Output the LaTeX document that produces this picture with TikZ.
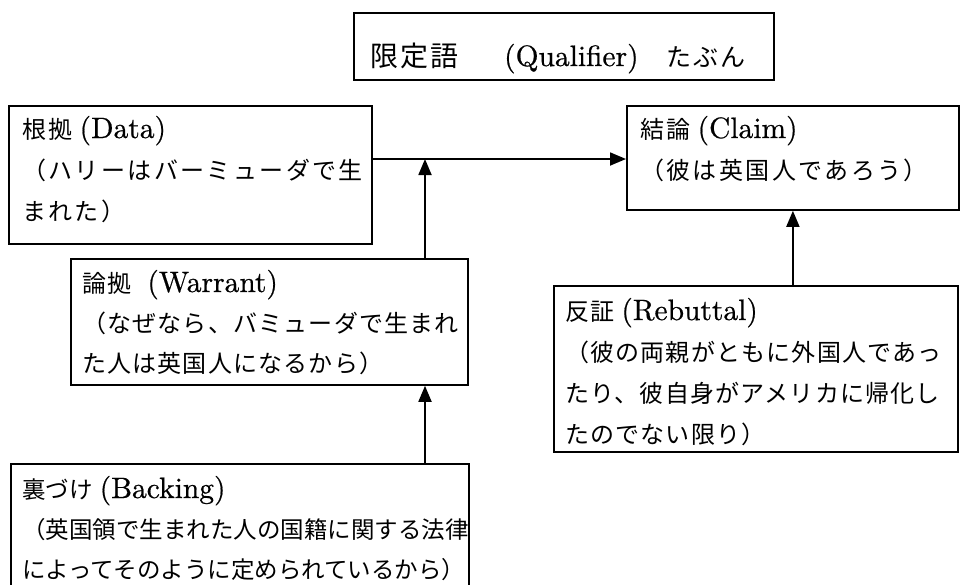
\documentclass[tikz,border=0pt]{standalone}
\usepackage{fontspec}
\usetikzlibrary{arrows.meta}
\newfontfamily\jpQ[LetterSpace=7]{Noto Sans CJK JP}
\newfontfamily\jpD[LetterSpace=10]{Noto Sans CJK JP}
\newfontfamily\jpW[LetterSpace=5]{Noto Sans CJK JP}
\newfontfamily\jpB{Noto Sans CJK JP}
\newfontfamily\lmr[FakeBold=0.6]{lmroman10-regular.otf}
\newcommand\lat[1]{{\lmr\fontsize{29.5}{41}\selectfont #1}}
\newcommand\lines[1]{\parbox[t]{540pt}{\raggedright #1}}
\begin{document}
\begin{tikzpicture}[x=1pt,y=-1pt,
  box/.style={draw, line width=1.8pt, anchor=north west, inner sep=0pt},
  txt/.style={anchor=base west, inner sep=0pt},
  arr/.style={line width=1.8pt, -{Triangle[length=16pt,width=13pt]}}]
\clip (0,0) rectangle (964,584);
% boxes
\node[box, minimum width=420pt, minimum height=67pt] (qual) at (353,12) {};
\node[box, minimum width=363pt, minimum height=138pt] (data) at (8,105) {};
\node[box, minimum width=332pt, minimum height=104pt] (claim) at (626,105) {};
\node[box, minimum width=397pt, minimum height=126pt] (warrant) at (70,258) {};
\node[box, minimum width=404pt, minimum height=166pt] (rebuttal) at (553,285) {};
\node[box, minimum width=458pt, minimum height=140pt] (backing) at (10,463) {};
% texts
\node[txt, font=\fontsize{28}{41}\selectfont\jpQ] (qualtxt) at (370,66)
  {限定語\hspace{46pt}\lat{(Qualifier)}\hspace{28pt}{\fontsize{25}{41}\selectfont たぶん}};
\node[txt, font=\fontsize{24}{41}\selectfont\jpD] (datatxt) at (22,138)
  {\lines{根拠\hspace{7pt}\lat{(Data)}\\（ハリーはバーミューダで生\\まれた）}};
\node[txt, font=\fontsize{24}{41}\selectfont\jpD] (claimtxt) at (640,138)
  {\lines{結論\hspace{7pt}\lat{(Claim)}\\（彼は英国人であろう）}};
\node[txt, font=\fontsize{24}{40}\selectfont\jpW] (warranttxt) at (82,292)
  {\lines{論拠\hspace{16pt}\lat{(Warrant)}\\（なぜなら、バミューダで生まれ\\た人は英国人になるから）}};
\node[txt, font=\fontsize{24}{41}\selectfont\jpW] (rebuttaltxt) at (565,320)
  {\lines{反証\hspace{7pt}\lat{(Rebuttal)}\\（彼の両親がともに外国人であっ\\たり、彼自身がアメリカに帰化し\\たのでない限り）}};
\node[txt, font=\fontsize{23.5}{40}\selectfont\jpB] (backingtxt) at (22,498)
  {\lines{裏づけ\hspace{7pt}\lat{(Backing)}\\（英国領で生まれた人の国籍に関する法律\\によってそのように定められているから）}};
% connectors
\coordinate (j) at (425,159);
\draw[arr] (data.east |- j) -- (claim.west |- j);
\draw[arr] (warrant.north -| j) -- (j);
\draw[arr] (rebuttal.north -| claim.south) -- (claim.south);
\draw[arr] (backing.north -| j) -- (warrant.south -| j);
\end{tikzpicture}
\end{document}
